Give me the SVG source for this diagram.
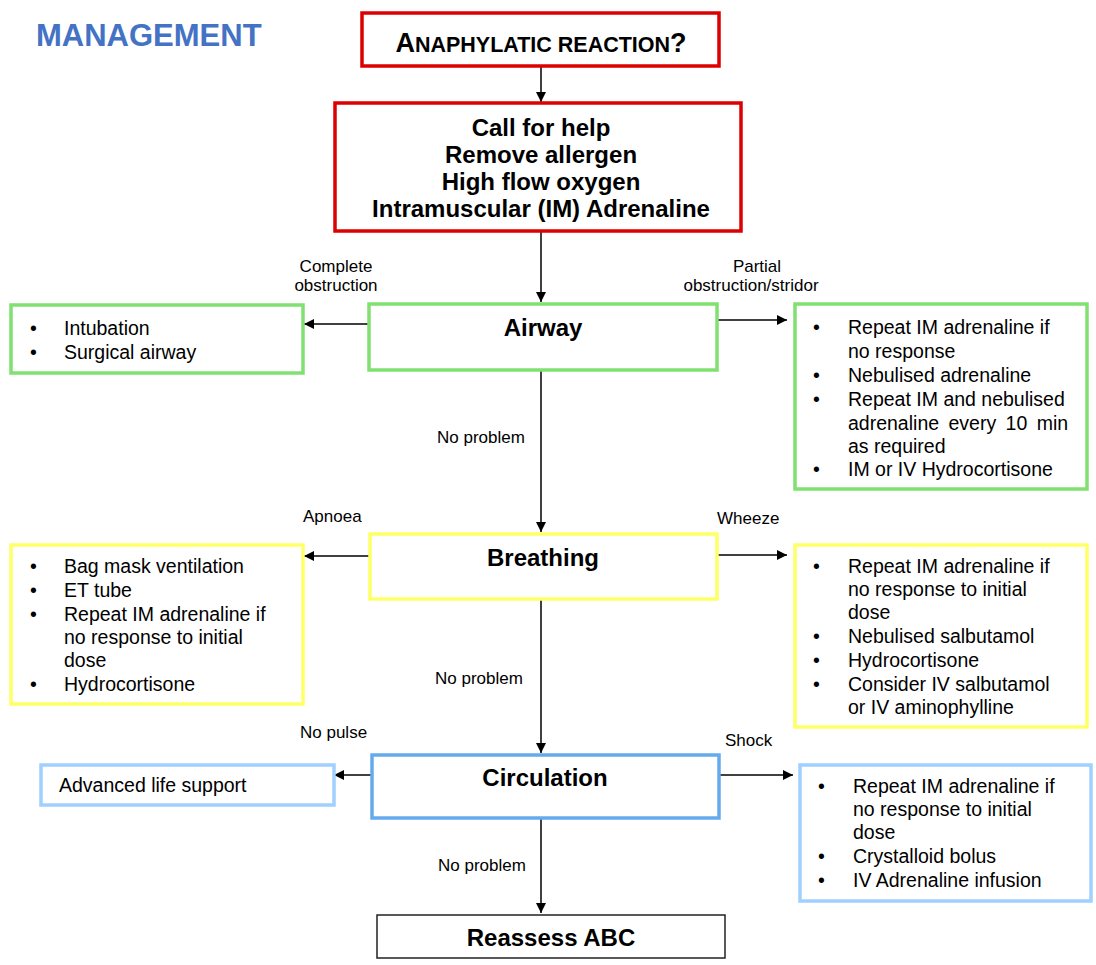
<svg xmlns="http://www.w3.org/2000/svg" width="1096" height="965" viewBox="0 0 1096 965">
<defs>
<marker id="ah" viewBox="0 0 10 10" refX="10" refY="5" markerWidth="10" markerHeight="10" markerUnits="userSpaceOnUse" orient="auto">
<path d="M0,0 L10,5 L0,10 z" fill="#000"/>
</marker>
<style>
text{font-family:"Liberation Sans",Arial,sans-serif;fill:#000}
.title{font-size:31px;font-weight:bold;fill:#4472c4}
.b{font-size:24px;font-weight:bold;text-anchor:middle}
.t{font-size:19.5px}
.lbl{font-size:17px}
.red{fill:#fff;stroke:#dd0000;stroke-width:3.5}
.grn{fill:#fff;stroke:#80e070;stroke-width:3.5}
.yel{fill:#fff;stroke:#ffff66;stroke-width:3.5}
.blu{fill:#fff;stroke:#66aaee;stroke-width:3.5}
.lblu{fill:#fff;stroke:#a0d0ff;stroke-width:3.5}
.blk{fill:#fff;stroke:#222;stroke-width:1.5}
.c{stroke:#000;stroke-width:1.5;fill:none;marker-end:url(#ah)}
</style>
</defs>
<rect width="1096" height="965" fill="#fff"/>
<text class="title" x="36" y="46">MANAGEMENT</text>

<g id="connectors">
<line class="c" x1="541" y1="66" x2="541" y2="102"/>
<line class="c" x1="541" y1="231" x2="541" y2="302"/>
<line class="c" x1="369" y1="324" x2="304" y2="324"/>
<line class="c" x1="717" y1="320" x2="787" y2="320"/>
<line class="c" x1="541" y1="370" x2="541" y2="532"/>
<line class="c" x1="370" y1="556" x2="304" y2="556"/>
<line class="c" x1="717" y1="555" x2="787" y2="555"/>
<line class="c" x1="541" y1="599" x2="541" y2="753"/>
<line class="c" x1="372" y1="775" x2="334" y2="775"/>
<line class="c" x1="719" y1="775" x2="793" y2="775"/>
<line class="c" x1="541" y1="818" x2="541" y2="913"/>
<text class="lbl" x="336" y="272" text-anchor="middle">Complete</text>
<text class="lbl" x="336" y="291" text-anchor="middle">obstruction</text>
<text class="lbl" x="757" y="272" text-anchor="middle">Partial</text>
<text class="lbl" x="751" y="291" text-anchor="middle">obstruction/stridor</text>
<text class="lbl" x="437" y="443">No problem</text>
<text class="lbl" x="303" y="522">Apnoea</text>
<text class="lbl" x="717" y="524">Wheeze</text>
<text class="lbl" x="435" y="684">No problem</text>
<text class="lbl" x="300" y="738">No pulse</text>
<text class="lbl" x="725" y="746">Shock</text>
<text class="lbl" x="438" y="871">No problem</text>
</g>

<g id="anaphylactic">
<rect class="red" x="362" y="13" width="357" height="53"/>
<text x="541" y="52" font-weight="bold" font-size="27" text-anchor="middle">A<tspan font-size="21.5">NAPHYLATIC REACTION</tspan>?</text>
</g>

<g id="initial">
<rect class="red" x="335" y="103" width="406" height="128"/>
<text class="b" x="541" y="136">Call for help</text>
<text class="b" x="541" y="163">Remove allergen</text>
<text class="b" x="541" y="190">High flow oxygen</text>
<text class="b" x="541" y="217">Intramuscular (IM) Adrenaline</text>
</g>

<g id="airway">
<rect class="grn" x="369" y="304" width="348" height="66"/>
<text class="b" x="543" y="336">Airway</text>
</g>

<g id="airway-complete">
<rect class="grn" x="11" y="305" width="292" height="68"/>
<text class="t" x="30" y="335">•</text><text class="t" x="64" y="335">Intubation</text>
<text class="t" x="30" y="359">•</text><text class="t" x="64" y="359">Surgical airway</text>
</g>

<g id="airway-partial">
<rect class="grn" x="795" y="304" width="292" height="185"/>
<text class="t" x="813" y="334">•</text><text class="t" x="848" y="334">Repeat IM adrenaline if</text>
<text class="t" x="848" y="358">no response</text>
<text class="t" x="813" y="382">•</text><text class="t" x="848" y="382">Nebulised adrenaline</text>
<text class="t" x="813" y="406">•</text><text class="t" x="848" y="406">Repeat IM and nebulised</text>
<text class="t" x="848" y="430" word-spacing="4">adrenaline every 10 min</text>
<text class="t" x="848" y="453">as required</text>
<text class="t" x="813" y="476">•</text><text class="t" x="848" y="476">IM or IV Hydrocortisone</text>
</g>

<g id="breathing">
<rect class="yel" x="370" y="534" width="347" height="65"/>
<text class="b" x="543" y="566">Breathing</text>
</g>

<g id="breathing-apnoea">
<rect class="yel" x="11" y="545" width="292" height="159"/>
<text class="t" x="30" y="573">•</text><text class="t" x="64" y="573">Bag mask ventilation</text>
<text class="t" x="30" y="597">•</text><text class="t" x="64" y="597">ET tube</text>
<text class="t" x="30" y="621">•</text><text class="t" x="64" y="621">Repeat IM adrenaline if</text>
<text class="t" x="64" y="644">no response to initial</text>
<text class="t" x="64" y="667">dose</text>
<text class="t" x="30" y="691">•</text><text class="t" x="64" y="691">Hydrocortisone</text>
</g>

<g id="breathing-wheeze">
<rect class="yel" x="795" y="545" width="292" height="182"/>
<text class="t" x="813" y="573">•</text><text class="t" x="848" y="573">Repeat IM adrenaline if</text>
<text class="t" x="848" y="596">no response to initial</text>
<text class="t" x="848" y="619">dose</text>
<text class="t" x="813" y="643">•</text><text class="t" x="848" y="643">Nebulised salbutamol</text>
<text class="t" x="813" y="667">•</text><text class="t" x="848" y="667">Hydrocortisone</text>
<text class="t" x="813" y="691">•</text><text class="t" x="848" y="691">Consider IV salbutamol</text>
<text class="t" x="848" y="714">or IV aminophylline</text>
</g>

<g id="circulation">
<rect class="blu" x="372" y="755" width="347" height="63"/>
<text class="b" x="545" y="786">Circulation</text>
</g>

<g id="circulation-nopulse">
<rect class="lblu" x="41" y="765" width="293" height="40"/>
<text class="t" x="59" y="792">Advanced life support</text>
</g>

<g id="circulation-shock">
<rect class="lblu" x="800" y="765" width="291" height="136"/>
<text class="t" x="818" y="793">•</text><text class="t" x="853" y="793">Repeat IM adrenaline if</text>
<text class="t" x="853" y="816">no response to initial</text>
<text class="t" x="853" y="839">dose</text>
<text class="t" x="818" y="863">•</text><text class="t" x="853" y="863">Crystalloid bolus</text>
<text class="t" x="818" y="887">•</text><text class="t" x="853" y="887">IV Adrenaline infusion</text>
</g>

<g id="reassess">
<rect class="blk" x="377" y="915" width="348" height="43"/>
<text class="b" x="551" y="946">Reassess ABC</text>
</g>
</svg>
